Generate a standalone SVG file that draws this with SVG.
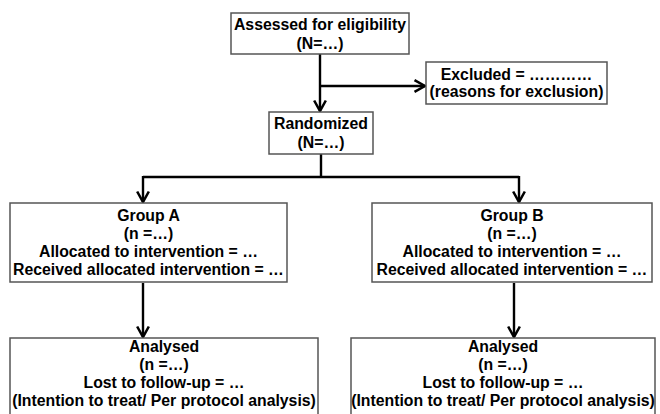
<svg xmlns="http://www.w3.org/2000/svg" width="660" height="414" viewBox="0 0 660 414">
<style>
.box{fill:#fff;stroke:#555;stroke-width:1.5}
.t{font-family:"Liberation Sans",Arial,sans-serif;font-weight:bold;font-size:15.8px;fill:#000;text-anchor:middle}
.c{fill:none;stroke:#000;stroke-width:2.4}
</style>
<defs>
<marker id="ah" markerUnits="userSpaceOnUse" markerWidth="14" markerHeight="14" refX="10" refY="6" orient="auto" viewBox="0 0 12 12">
<path d="M1,1 L10,6 L1,11" fill="none" stroke="#000" stroke-width="2.2"/>
</marker>
</defs>
<rect width="660" height="414" fill="#fff"/>
<g id="connectors">
<line class="c" x1="320" y1="54" x2="320" y2="111" marker-end="url(#ah)"/>
<line class="c" x1="320" y1="86" x2="425" y2="86" marker-end="url(#ah)"/>
<polyline class="c" points="321,154 321,177"/>
<polyline class="c" points="143,177 519,177"/>
<line class="c" x1="143" y1="176" x2="143" y2="202" marker-end="url(#ah)"/>
<line class="c" x1="519" y1="176" x2="519" y2="202" marker-end="url(#ah)"/>
<line class="c" x1="143" y1="283" x2="143" y2="337" marker-end="url(#ah)"/>
<line class="c" x1="514" y1="283" x2="514" y2="337" marker-end="url(#ah)"/>
</g>
<g id="assessed">
<rect class="box" x="231" y="13" width="178" height="41"/>
<text class="t" x="320" y="30">Assessed for eligibility</text>
<text class="t" x="320" y="49">(N=…)</text>
</g>
<g id="excluded">
<rect class="box" x="426" y="62" width="181" height="42"/>
<text class="t" x="516.5" y="80">Excluded = …………</text>
<text class="t" x="516.5" y="97">(reasons for exclusion)</text>
</g>
<g id="randomized">
<rect class="box" x="269" y="112" width="104" height="42"/>
<text class="t" x="321" y="129">Randomized</text>
<text class="t" x="321" y="148">(N=…)</text>
</g>
<g id="groupA">
<rect class="box" x="10" y="203" width="277" height="79"/>
<text class="t" x="148.5" y="221">Group A</text>
<text class="t" x="148.5" y="239">(n =…)</text>
<text class="t" x="148.5" y="257">Allocated to intervention = …</text>
<text class="t" x="148.5" y="275">Received allocated intervention = …</text>
</g>
<g id="groupB">
<rect class="box" x="372" y="203" width="280" height="79"/>
<text class="t" x="512" y="221">Group B</text>
<text class="t" x="512" y="239">(n =…)</text>
<text class="t" x="512" y="257">Allocated to intervention = …</text>
<text class="t" x="512" y="275">Received allocated intervention = …</text>
</g>
<g id="analysedA">
<rect class="box" x="10" y="338" width="308" height="80"/>
<text class="t" x="164" y="352">Analysed</text>
<text class="t" x="164" y="370">(n =…)</text>
<text class="t" x="164" y="388">Lost to follow-up = …</text>
<text class="t" x="164" y="406">(Intention to treat/ Per protocol analysis)</text>
</g>
<g id="analysedB">
<rect class="box" x="351" y="338" width="304" height="80"/>
<text class="t" x="503" y="352">Analysed</text>
<text class="t" x="503" y="370">(n =…)</text>
<text class="t" x="503" y="388">Lost to follow-up = …</text>
<text class="t" x="503" y="406">(Intention to treat/ Per protocol analysis)</text>
</g>
</svg>
